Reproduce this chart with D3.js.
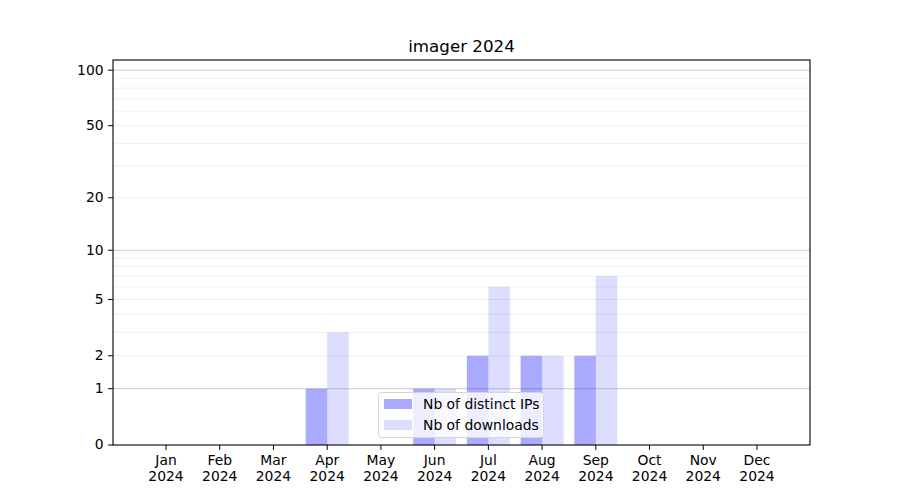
<!DOCTYPE html>
<html>
<head>
<meta charset="utf-8">
<script src="https://cdn.jsdelivr.net/npm/d3@7"></script>
<style>
  html, body { margin: 0; padding: 0; background: #fff; }
  svg { display: block; font-family: "DejaVu Sans", sans-serif; }
</style>
</head>
<body>
<svg id="chart" width="900" height="500"></svg>
<script>
const months = ["Jan", "Feb", "Mar", "Apr", "May", "Jun", "Jul", "Aug", "Sep", "Oct", "Nov", "Dec"];
const year = "2024";
const distinctIPs = [0, 0, 0, 1, 0, 1, 2, 2, 2, 0, 0, 0];
const downloads   = [0, 0, 0, 3, 0, 1, 6, 2, 7, 0, 0, 0];
const yTicks = [0, 1, 2, 5, 10, 20, 50, 100];
const majorGrid = [1, 10, 100];
const minorGrid = [2, 3, 4, 5, 6, 7, 8, 9, 20, 30, 40, 50, 60, 70, 80, 90];
const seriesNames = ["Nb of distinct IPs", "Nb of downloads"];
const title = "imager 2024";

const svg = d3.select("#chart");
const L = 113, R = 810, T = 60, B = 445;
const fs = 13.9;

const x = d3.scaleLinear().domain([0, 11]).range([166, 757]);
// y-axis: logarithmic in (value + 1)
const yLog = d3.scaleLog().domain([1, 114.5]).range([B, T]);
const y = v => yLog(v + 1);

// grid
const grid = svg.append("g");
grid.selectAll("line.minor").data(minorGrid).join("line")
  .attr("x1", L).attr("x2", R).attr("y1", d => y(d)).attr("y2", d => y(d))
  .attr("stroke", "#ebebeb").attr("stroke-width", 0.8);
grid.selectAll("line.major").data(majorGrid).join("line")
  .attr("x1", L).attr("x2", R).attr("y1", d => y(d)).attr("y2", d => y(d))
  .attr("stroke", "#cccccc").attr("stroke-width", 1);

// bars
const bw = x(0.4) - x(0);
svg.append("g").selectAll("rect").data(distinctIPs).join("rect")
  .attr("x", (d, i) => x(i - 0.4)).attr("width", bw)
  .attr("y", d => y(d)).attr("height", d => B - y(d))
  .attr("fill", "#0000ff").attr("fill-opacity", 0.333);
svg.append("g").selectAll("rect").data(downloads).join("rect")
  .attr("x", (d, i) => x(i)).attr("width", bw)
  .attr("y", d => y(d)).attr("height", d => B - y(d))
  .attr("fill", "#0000ff").attr("fill-opacity", 0.135);

// axes
const yAxis = d3.axisLeft(yLog).tickValues(yTicks.map(v => v + 1))
  .tickFormat(d => String(Math.round(d - 1))).tickSize(4.9).tickPadding(4.5).offset(0);
const gy = svg.append("g").attr("transform", `translate(${L},0)`).call(yAxis);
gy.select(".domain").remove();
gy.selectAll("line").attr("stroke", "#000").attr("stroke-width", 1);
gy.selectAll("text").attr("font-size", fs).attr("fill", "#000")
  .attr("font-family", "DejaVu Sans");

const xAxis = d3.axisBottom(x).tickValues(d3.range(12)).tickFormat(i => months[i])
  .tickSize(4.9).tickPadding(4.9).offset(0);
const gx = svg.append("g").attr("transform", `translate(0,${B})`).call(xAxis);
gx.select(".domain").remove();
gx.selectAll("line").attr("stroke", "#000").attr("stroke-width", 1);
gx.selectAll("text").attr("font-size", fs).attr("fill", "#000")
  .attr("font-family", "DejaVu Sans")
  .each(function(i) {
    const t = d3.select(this);
    t.text(null);
    t.append("tspan").attr("x", 0).attr("dy", "0.71em").text(months[i]);
    t.append("tspan").attr("x", 0).attr("dy", "1.15em").text(year);
  });

// frame
svg.append("rect").attr("x", L).attr("y", T).attr("width", R - L).attr("height", B - T)
  .attr("fill", "none").attr("stroke", "#000").attr("stroke-width", 1.1);

// title
svg.append("text").attr("x", (L + R) / 2).attr("y", 52).attr("text-anchor", "middle")
  .attr("font-size", 16.7).attr("fill", "#000").text(title);

// legend
const lg = svg.append("g");
lg.append("rect").attr("x", 378.5).attr("y", 392.5).attr("width", 165).attr("height", 45)
  .attr("rx", 3).attr("fill", "#fff").attr("fill-opacity", 0.8)
  .attr("stroke", "#d6d6d6").attr("stroke-width", 1);
const legendOp = [0.333, 0.135];
seriesNames.forEach((name, k) => {
  const yy = 399 + k * 21;
  lg.append("rect").attr("x", 384).attr("y", yy).attr("width", 28).attr("height", 10)
    .attr("fill", "#0000ff").attr("fill-opacity", legendOp[k]);
  lg.append("text").attr("x", 423).attr("y", yy + 10).attr("font-size", fs)
    .attr("fill", "#000").text(name);
});
</script>
</body>
</html>
